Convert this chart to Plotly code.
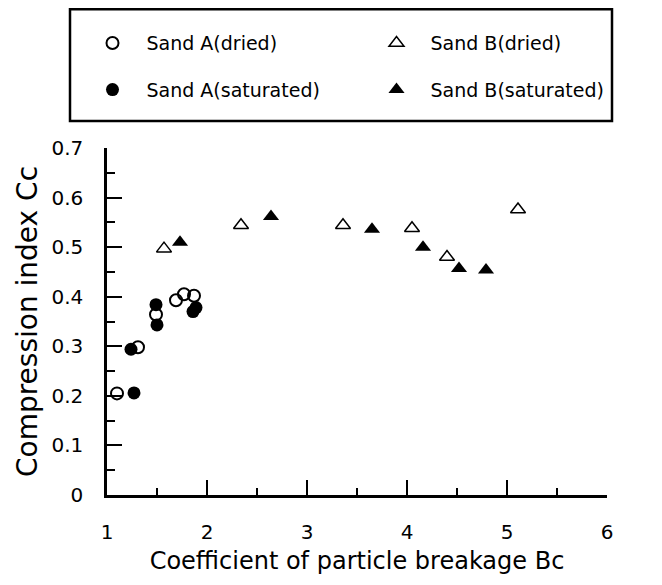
import plotly.graph_objects as go

# Data
a_dried_x = [1.10, 1.31, 1.49, 1.69, 1.77, 1.87]
a_dried_y = [0.205, 0.298, 0.364, 0.393, 0.405, 0.402]
a_sat_x = [1.27, 1.24, 1.49, 1.50, 1.86, 1.89]
a_sat_y = [0.206, 0.294, 0.384, 0.343, 0.370, 0.378]
b_dried_x = [1.57, 2.34, 3.36, 4.05, 4.40, 5.11]
b_dried_y = [0.497, 0.544, 0.544, 0.538, 0.480, 0.576]
b_sat_x = [1.73, 2.64, 3.65, 4.16, 4.52, 4.79]
b_sat_y = [0.510, 0.562, 0.536, 0.500, 0.457, 0.454]

x_ticks = [1, 2, 3, 4, 5, 6]
y_ticks = [0, 0.1, 0.2, 0.3, 0.4, 0.5, 0.6, 0.7]
y_tick_labels = ["0", "0.1", "0.2", "0.3", "0.4", "0.5", "0.6", "0.7"]
x_range = [1, 6]
y_range = [0, 0.7]

FONT = "DejaVu Sans, Liberation Sans, Arial, sans-serif"

fig = go.Figure()
fig.add_trace(go.Scatter(x=a_dried_x, y=a_dried_y, mode="markers", name="Sand A(dried)",
                         legend="legend",
                         marker=dict(symbol="circle-open", size=12, color="black", line=dict(width=2))))
fig.add_trace(go.Scatter(x=b_dried_x, y=b_dried_y, mode="markers", name="Sand B(dried)",
                         legend="legend",
                         marker=dict(symbol="triangle-up-open", size=13, color="black", line=dict(width=1.5))))
fig.add_trace(go.Scatter(x=a_sat_x, y=a_sat_y, mode="markers", name="Sand A(saturated)",
                         legend="legend2",
                         marker=dict(symbol="circle", size=13, color="black")))
fig.add_trace(go.Scatter(x=b_sat_x, y=b_sat_y, mode="markers", name="Sand B(saturated)",
                         legend="legend2",
                         marker=dict(symbol="triangle-up", size=14, color="black")))
# invisible trace binding the overlay axes that carry the inside ticks
fig.add_trace(go.Scatter(x=x_range, y=y_range, xaxis="x2", yaxis="y2", mode="markers",
                         marker=dict(opacity=0), showlegend=False, hoverinfo="skip"))

label_axis = dict(
    showline=True, linecolor="black", linewidth=2.5,
    showgrid=False, zeroline=False,
    ticks="outside", tickcolor="rgba(0,0,0,0)",
    tickfont=dict(family=FONT, size=20, color="black"),
)
tick_axis = dict(
    showline=False, showgrid=False, zeroline=False, showticklabels=False,
    ticks="inside", tickcolor="black", tickwidth=1.8, ticklen=15,
)

fig.update_layout(
    xaxis=dict(**label_axis, range=x_range, tickvals=x_ticks, ticklen=17,
               title=dict(text="Coefficient of particle breakage Bc",
                          font=dict(family=FONT, size=24, color="black"), standoff=10)),
    yaxis=dict(**label_axis, range=y_range, tickvals=y_ticks, ticktext=y_tick_labels, ticklen=17,
               title=dict(text="Compression index Cc",
                          font=dict(family=FONT, size=28, color="black"), standoff=6)),
    xaxis2=dict(**tick_axis, overlaying="x", anchor="y2", side="bottom", range=x_range,
                tickvals=x_ticks,
                minor=dict(ticks="inside", dtick=0.5, ticklen=7, tickcolor="black", tickwidth=1.8)),
    yaxis2=dict(**tick_axis, overlaying="y", anchor="x2", side="left", range=y_range,
                tickvals=y_ticks,
                minor=dict(ticks="inside", dtick=0.05, ticklen=8, tickcolor="black", tickwidth=1.8)),
)

leg_common = dict(orientation="h", bgcolor="rgba(0,0,0,0)", borderwidth=0,
                  font=dict(family=FONT, size=19, color="black"),
                  itemwidth=58, entrywidth=211, entrywidthmode="pixels",
                  xanchor="left", yanchor="middle", itemclick=False)

fig.update_layout(
    width=662, height=585,
    margin=dict(l=107, r=55, t=148, b=90),
    paper_bgcolor="white", plot_bgcolor="white",
    showlegend=True,
    legend=dict(**leg_common, x=-0.057, y=1.302),
    legend2=dict(**leg_common, x=-0.057, y=1.168),
    shapes=[dict(type="rect", xref="paper", yref="paper",
                 x0=-0.074, x1=1.01, y0=1.078, y1=1.40,
                 line=dict(color="black", width=2.5), fillcolor="rgba(0,0,0,0)")],
)

fig.write_html("out.html")
